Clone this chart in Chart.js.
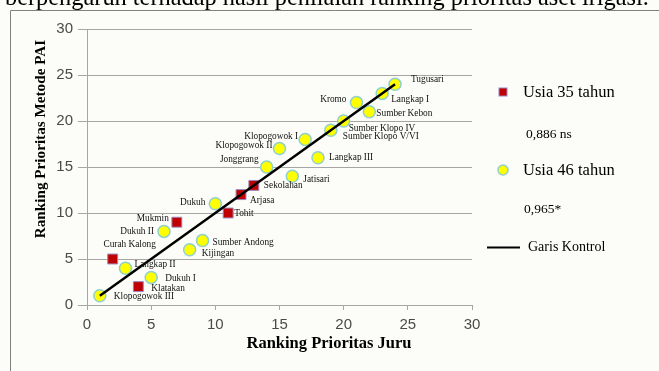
<!DOCTYPE html>
<html>
<head>
<meta charset="utf-8">
<script src="https://cdn.jsdelivr.net/npm/chart.js@4.4.1/dist/chart.umd.min.js"></script>
<style>
  html, body { margin: 0; padding: 0; background: #fcfcf8; }
  #wrap { position: relative; width: 659px; height: 371px; overflow: hidden; }
  canvas { display: block; }
</style>
</head>
<body>
<div id="wrap"><canvas id="chart" width="659" height="371"></canvas></div>
<script>
// Ranking prioritas: juru (x) vs metode PAI (y)

// Usia 35 tahun
const names35 = ['Curah Kalong', 'Klatakan', 'Mukmin', 'Tohit', 'Arjasa', 'Sekolahan'];
const juru35  = [2, 4, 7, 11, 12, 13];
const pai35   = [5, 2, 9, 10, 12, 13];

// Usia 46 tahun
const names46 = ['Klopogowok III', 'Langkap II', 'Dukuh I', 'Kijingan', 'Sumber Andong', 'Dukuh II',
                 'Dukuh', 'Jonggrang', 'Jatisari', 'Klopogowok II', 'Klopogowok I', 'Langkap III',
                 'Sumber Klopo V/VI', 'Sumber Klopo IV', 'Kromo', 'Sumber Kebon', 'Langkap I', 'Tugusari'];
const juru46  = [1, 3, 5, 8, 9, 6, 10, 14, 16, 15, 17, 18, 19, 20, 21, 22, 23, 24];
const pai46   = [1, 4, 3, 6, 7, 8, 11, 15, 14, 17, 18, 16, 19, 20, 22, 21, 23, 24];

// Garis kontrol (x = y)
const controlX = [1, 24];
const controlY = [1, 24];

// Axis ticks
const tickValues = [0, 5, 10, 15, 20, 25, 30];

// Legend text
const legendTexts = ['Usia 35 tahun', '0,886 ns', 'Usia 46 tahun', '0,965*', 'Garis Kontrol'];
const headerLine = 'berpengaruh terhadap hasil penilaian ranking prioritas aset irigasi.';

const toPoints = (xs, ys) => xs.map((x, i) => ({ x: x, y: ys[i] }));

// Where each point name sits relative to its marker: [dx, dy, align]
const labelPlacement = {
  'Klopogowok III': [14, 1, 'left'],
  'Langkap II': [9, -4, 'left'],
  'Dukuh I': [14, 1, 'left'],
  'Kijingan': [12, 4, 'left'],
  'Sumber Andong': [10, 2, 'left'],
  'Dukuh II': [-10, 0, 'right'],
  'Dukuh': [-10, -1, 'right'],
  'Jonggrang': [-8, -7, 'right'],
  'Jatisari': [11, 3, 'left'],
  'Klopogowok II': [-7, -3, 'right'],
  'Klopogowok I': [-7, -3, 'right'],
  'Langkap III': [11, 0, 'left'],
  'Sumber Klopo V/VI': [12, 6, 'left'],
  'Sumber Klopo IV': [5, 8, 'left'],
  'Kromo': [-10, -3, 'right'],
  'Sumber Kebon': [7, 2, 'left'],
  'Langkap I': [9, 6, 'left'],
  'Tugusari': [16, -5, 'left'],
  'Curah Kalong': [17, -14, 'center'],
  'Klatakan': [13, 2, 'left'],
  'Mukmin': [-8, -4, 'right'],
  'Tohit': [6, 1, 'left'],
  'Arjasa': [9, 6, 'left'],
  'Sekolahan': [10, 0, 'left']
};

const RED = '#c00000', RED_EDGE = '#9a86c0';
const YELLOW = '#ffff00', YELLOW_EDGE = '#8fd0cc';
const GRID = '#a6a6a6';
const SERIF = '"Liberation Serif", "Times New Roman", serif';

const pointNames = {
  id: 'pointNames',
  afterDatasetsDraw(chart) {
    const ctx = chart.ctx;
    ctx.save();
    ctx.font = '9.3px ' + SERIF;
    ctx.fillStyle = '#111';
    ctx.textBaseline = 'middle';
    chart.data.datasets.forEach((ds, di) => {
      if (!ds.names) return;
      const meta = chart.getDatasetMeta(di);
      meta.data.forEach((el, i) => {
        const name = ds.names[i];
        const p = labelPlacement[name] || [8, 0, 'left'];
        ctx.textAlign = p[2];
        ctx.fillText(name, el.x + p[0], el.y + p[1]);
      });
    });
    ctx.restore();
  }
};

const decorations = {
  id: 'decorations',
  beforeDraw(chart) {
    const ctx = chart.ctx;
    ctx.save();
    ctx.fillStyle = '#fcfcf8';
    ctx.fillRect(0, 0, chart.width, chart.height);
    // frame
    ctx.strokeStyle = '#808080';
    ctx.lineWidth = 1;
    ctx.beginPath();
    ctx.moveTo(10.5, chart.height);
    ctx.lineTo(10.5, 10.5);
    ctx.lineTo(chart.width, 10.5);
    ctx.stroke();
    // running text line above the frame, sized to span the page width
    ctx.font = '20px ' + SERIF;
    const natural = ctx.measureText(headerLine).width;
    const size = 20 * (644 / natural);
    ctx.font = size.toFixed(2) + 'px ' + SERIF;
    ctx.fillStyle = '#000';
    ctx.textBaseline = 'alphabetic';
    ctx.fillText(headerLine, 5, 5);
    ctx.restore();
  },
  afterDraw(chart) {
    const ctx = chart.ctx;
    ctx.save();
    // axis titles
    ctx.fillStyle = '#000';
    ctx.textAlign = 'center';
    ctx.textBaseline = 'middle';
    ctx.font = 'bold 16.5px ' + SERIF;
    ctx.fillText('Ranking Prioritas Juru', 329, 344);
    ctx.save();
    ctx.translate(41, 139);
    ctx.rotate(-Math.PI / 2);
    ctx.font = 'bold 15.2px ' + SERIF;
    ctx.fillText('Ranking Prioritas Metode PAI', 0, 0);
    ctx.restore();

    // legend
    ctx.textAlign = 'left';
    ctx.fillStyle = RED;
    ctx.strokeStyle = RED_EDGE;
    ctx.lineWidth = 1;
    ctx.fillRect(499, 88, 8, 8);
    ctx.strokeRect(499, 88, 8, 8);
    ctx.beginPath();
    ctx.arc(503, 170, 5, 0, Math.PI * 2);
    ctx.fillStyle = YELLOW;
    ctx.fill();
    ctx.strokeStyle = YELLOW_EDGE;
    ctx.lineWidth = 1.5;
    ctx.stroke();
    ctx.beginPath();
    ctx.moveTo(487, 247.5);
    ctx.lineTo(520, 247.5);
    ctx.strokeStyle = '#000';
    ctx.lineWidth = 2;
    ctx.stroke();

    ctx.fillStyle = '#000';
    ctx.font = '16.5px ' + SERIF;
    ctx.fillText(legendTexts[0], 523, 93);
    ctx.fillText(legendTexts[2], 523, 171);
    ctx.font = '13.5px ' + SERIF;
    ctx.fillText(legendTexts[1], 526, 134);
    ctx.fillText(legendTexts[3], 524, 209);
    ctx.font = '14px ' + SERIF;
    ctx.fillText(legendTexts[4], 528, 247);
    ctx.restore();
  }
};

new Chart(document.getElementById('chart'), {
  type: 'scatter',
  data: {
    datasets: [
      {
        label: 'Garis Kontrol',
        data: toPoints(controlX, controlY),
        showLine: true,
        borderColor: '#000',
        borderWidth: 2.5,
        pointRadius: 0,
        order: 0
      },
      {
        label: 'Usia 35 tahun',
        names: names35,
        data: toPoints(juru35, pai35),
        pointStyle: 'rect',
        pointRadius: 7,
        backgroundColor: RED,
        borderColor: RED_EDGE,
        borderWidth: 1,
        order: 1
      },
      {
        label: 'Usia 46 tahun',
        names: names46,
        data: toPoints(juru46, pai46),
        pointStyle: 'circle',
        pointRadius: 6,
        backgroundColor: YELLOW,
        borderColor: YELLOW_EDGE,
        borderWidth: 1.5,
        order: 2
      }
    ]
  },
  options: {
    responsive: false,
    animation: false,
    devicePixelRatio: 1,
    layout: { padding: { left: 0, right: 187, top: 29, bottom: 0 } },
    plugins: { legend: { display: false }, tooltip: { enabled: false } },
    scales: {
      x: {
        type: 'linear',
        min: 0, max: 30,
        afterBuildTicks: s => { s.ticks = tickValues.map(v => ({ value: v })); },
        afterFit: s => { s.height = 66; },
        grid: { drawOnChartArea: false, drawTicks: true, tickLength: 5, color: GRID },
        border: { display: true, color: GRID, width: 1 },
        ticks: { color: '#4a4a4a', font: { family: 'Liberation Sans', size: 15 }, padding: 6, maxRotation: 0 }
      },
      y: {
        type: 'linear',
        min: 0, max: 30,
        afterBuildTicks: s => { s.ticks = tickValues.map(v => ({ value: v })); },
        afterFit: s => { s.width = 87; },
        grid: { drawOnChartArea: true, drawTicks: true, tickLength: 9, color: GRID },
        border: { display: true, color: GRID, width: 1 },
        ticks: { color: '#4a4a4a', font: { family: 'Liberation Sans', size: 15 }, padding: 5 }
      }
    }
  },
  plugins: [decorations, pointNames]
});
</script>
</body>
</html>
